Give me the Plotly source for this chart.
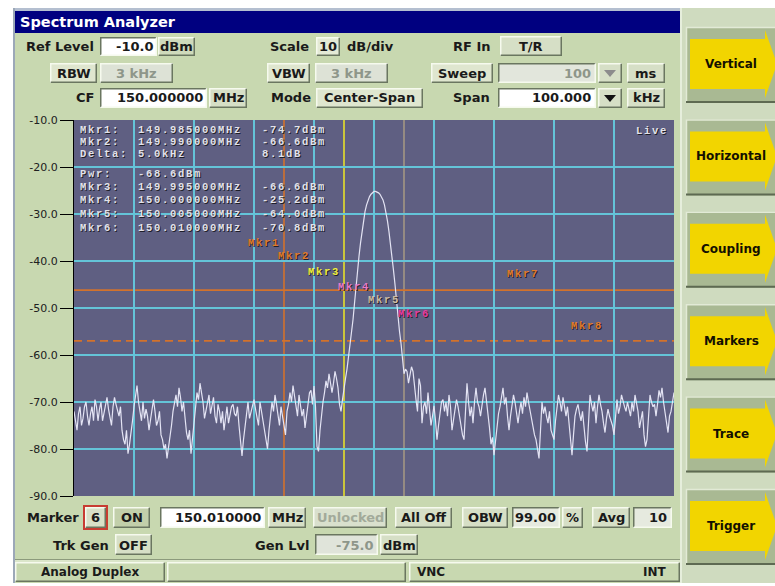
import plotly.graph_objects as go

# ---------------- data ----------------
# one sweep point every 0.25 kHz from 149.950 MHz to 150.050 MHz
FREQ_START_MHZ = 149.950
FREQ_STEP_MHZ = 0.00025
TRACE_DBM = [
    # 149.950 .. 149.995 MHz (noise floor)
    -72, -74, -76, -72.5, -71, -75, -73.5, -71, -70, -73,
    -75, -72.5, -71, -74, -69.5, -71, -74, -71.5, -70, -74,
    -72, -70, -69, -71.5, -73, -75, -71, -69, -70.5, -72,
    -73, -71, -76, -78, -79, -76, -81, -79, -77, -74,
    -71, -69, -66.5, -70, -72, -74, -70, -73.5, -71.5, -73,
    -76, -73.5, -71, -69.5, -72, -75, -74, -72, -77, -78,
    -80, -79, -82, -80, -78, -75, -72, -70, -68.5, -71,
    -67, -69, -72, -70, -74, -76.5, -78, -76, -81, -78,
    -74, -71, -68, -69.5, -66, -68, -70, -73.5, -72, -70,
    -68.5, -72.5, -71, -69, -73, -74.5, -70.5, -72, -74.5, -72,
    -76, -73, -71, -74.5, -72.5, -71, -70.5, -72.5, -73, -71,
    -75, -78, -81.5, -78, -75, -72.5, -70, -73.5, -72, -70.5,
    -69.5, -71.5, -73, -75, -70, -72, -74.5, -77, -79, -80,
    -76, -73, -70, -72, -68.5, -70.5, -73, -75, -71, -73,
    -74.7, -77, -72, -70.5, -68, -70, -66.5, -69, -71, -73,
    -68.5, -70.5, -73, -71.5, -75.5, -73, -70, -68, -67.5, -70.5,
    -66.6, -71, -79.5, -80.5, -76, -72.5, -70, -68, -65.5, -67,
    -64, -66, -68, -66, -63.5, -65, -67, -70.5, -72, -69.5,
    # 149.995 .. 150.005 MHz (carrier)
    -66.6, -65, -63, -60.5, -57.5, -55, -52.5, -49, -45, -42,
    -39, -36.2, -33.8, -31.5, -29.5, -28.1, -27, -26.3, -25.8, -25.4,
    -25.2, -25.2, -25.3, -25.5, -25.8, -26.3, -27, -28.1, -29.5, -31.5,
    -33.8, -36.2, -39, -42, -45, -49, -52.5, -55, -57.5, -61,
    -64.0,
    # 150.00525 .. 150.050 MHz (noise floor)
    -63, -63.5, -66, -64.5, -62.5, -63.5, -67, -69.5, -72, -65,
    -66.5, -74.5, -71, -70, -72.5, -68, -71.5, -75, -73, -70.8,
    -74, -78, -75, -72, -70, -69.5, -72, -70, -73, -68.5,
    -71, -76, -74, -72, -69.5, -71, -73.5, -75, -77, -78,
    -72, -66, -70, -73, -71, -74.5, -70, -67, -70, -71,
    -73, -70, -68.5, -67, -69.5, -72, -75.5, -79, -77.5, -81.3,
    -78, -75, -72.5, -71, -69, -67, -70.5, -69, -73, -76,
    -73, -71, -68.5, -70, -72, -74.5, -72, -70, -72.5, -69,
    -71, -68, -70, -72, -73.5, -75, -77, -78, -80, -82,
    -76, -70, -72.5, -71, -73, -74.5, -72, -76, -77, -78,
    -74, -71, -68.5, -70, -72, -69, -71.5, -73, -71, -75,
    -78, -81.3, -77, -73, -71.5, -70.5, -72.5, -74, -72, -76,
    -78.5, -80.5, -74, -68.5, -70.5, -72, -70, -74.5, -71, -68.5,
    -70.5, -72, -74.5, -76.5, -73.5, -71.5, -73, -74, -75, -77,
    -73, -69.5, -72.5, -71, -68.5, -70, -71, -72, -70, -71.5,
    -73, -70, -72, -68.5, -70.5, -72, -75.5, -74, -72, -77,
    -79.5, -78, -72, -68.5, -70, -71, -70.5, -73, -70.5, -67.5,
    -69, -67, -70, -72, -74.5, -76.5, -73, -72, -70, -68,
]

X_GRID_MHZ = [149.95, 149.96, 149.97, 149.98, 149.99, 150.00,
              150.01, 150.02, 150.03, 150.04, 150.05]
Y_TICK_DBM = [-10, -20, -30, -40, -50, -60, -70, -80, -90]
Y_TICK_TEXT = ["-10.0", "-20.0", "-30.0", "-40.0", "-50.0",
               "-60.0", "-70.0", "-80.0", "-90.0"]

MARKER_NAMES = ["Mkr1", "Mkr2", "Mkr3", "Mkr4", "Mkr5", "Mkr6"]
MARKER_FREQ_MHZ = [149.985, 149.990, 149.995, 150.000, 150.005, 150.010]
MARKER_DBM = [-74.7, -66.6, -66.6, -25.2, -64.0, -70.8]
LEVEL_MARKER_NAMES = ["Mkr7", "Mkr8"]
LEVEL_MARKER_DBM = [-46.2, -57.0]
CHANNEL_POWER_DBM = -68.6

SIDE_BUTTONS = ["Vertical", "Horizontal", "Coupling", "Markers", "Trace", "Trigger"]

# ---------------- geometry helpers ----------------
W, H = 775, 586
PL, PR, PT, PB = 74, 674, 120, 496
SANS = "DejaVu Sans"
MONO = "Liberation Mono"
BG = "#c8d8b0"
FACE = "#d6dfc6"
GRAYFACE = "#dde2d6"
GRAYTXT = "#8e968a"

shapes = []
annots = []


def px(x):
    return (x - PL) / (PR - PL)


def py(y):
    return (PB - y) / (PB - PT)


def rect(x0, y0, x1, y1, fill):
    shapes.append(dict(type="rect", xref="paper", yref="paper",
                       x0=px(x0), x1=px(x1), y0=py(y1), y1=py(y0),
                       fillcolor=fill, line=dict(width=0), layer="above"))


def path(points, color=None, lw=0, fill=None, closed=False):
    d = "M " + " L ".join(f"{px(x):.5f},{py(y):.5f}" for x, y in points)
    if closed:
        d += " Z"
    shapes.append(dict(type="path", xref="paper", yref="paper", path=d,
                       line=dict(color=color or "rgba(0,0,0,0)", width=lw),
                       fillcolor=fill or "rgba(0,0,0,0)", layer="above"))


def box(x0, y0, x1, y1, face, style="raised"):
    rect(x0, y0, x1, y1, face)
    if style == "raised":
        hi, sh = "#f6faee", "#6a7660"
    else:
        hi, sh = "#6a7660", "#f6faee"
    path([(x0 + 0.75, y1 - 0.75), (x0 + 0.75, y0 + 0.75), (x1 - 0.75, y0 + 0.75)], hi, 1.5)
    path([(x1 - 0.75, y0 + 0.75), (x1 - 0.75, y1 - 0.75), (x0 + 0.75, y1 - 0.75)], sh, 1.5)


def text(x, y, s, size=13, color="#1a1a1a", anchor="left", bold=True, family=SANS):
    annots.append(dict(xref="paper", yref="paper", x=px(x), y=py(y),
                       text=f"<b>{s}</b>" if bold else s, showarrow=False,
                       xanchor=anchor, yanchor="middle", borderpad=0,
                       font=dict(size=size, color=color, family=family)))


def mono(x, y, s, color="#e2e2ea", anchor="left", xref="paper", xval=None, xshift=0):
    html = ('<b><span style="letter-spacing:1.7px;'
            'text-shadow:1px 1px 0px #1e1e2a">' + s + '</span></b>')
    annots.append(dict(xref=xref, yref="paper",
                       x=px(x) if xval is None else xval, y=py(y),
                       text=html, showarrow=False, xanchor=anchor, yanchor="middle",
                       xshift=xshift, borderpad=0,
                       font=dict(size=10.5, color=color, family=MONO)))


# ---------------- window chrome ----------------
rect(0, 0, 775, 8, "#ffffff")
rect(0, 0, 13, 586, "#ffffff")
rect(0, 583, 775, 586, "#ffffff")
rect(13, 8, 682, 11, "#b4bfd0")
rect(13, 8, 15, 583, "#9ca8b8")
rect(15, 11, 680, 33, "#000080")
text(19, 22, "Spectrum Analyzer", 14.5, "#ffffff")

# right panel
rect(680, 8, 775, 583, "#cfdbbf")
rect(680, 8, 682, 583, "#e6eedc")
for k, name in enumerate(SIDE_BUTTONS):
    T = 27 + 92.4 * k
    rect(686, T, 776, T + 76, "#a9b993")
    path([(686.5, T + 76), (686.5, T + 0.5), (776, T + 0.5)], "#e2ead6", 1.5)
    path([(686, T + 75), (776, T + 75)], "#5e6a52", 2)
    path([(690, T + 12), (765, T + 12), (765, T + 3), (777, T + 37),
          (765, T + 71), (765, T + 62), (690, T + 62)],
         fill="#f2d500", closed=True)
    text(731, T + 37, name, 12, "#141000", "center")

# ---------------- top control rows ----------------
y1c = 46.5
text(95, y1c, "Ref Level", anchor="right")
box(100, 37, 157, 56, "#ffffff", "sunken")
text(154, y1c, "-10.0", anchor="right")
box(158, 37, 195, 56, "#cfdabb")
text(176.5, y1c, "dBm", anchor="center")
text(310, y1c, "Scale", anchor="right")
box(316, 37, 340, 56, "#e4ead6")
text(328, y1c, "10", anchor="center")
text(346, y1c, "dB/div")
text(492, y1c, "RF In", anchor="right")
box(500, 36, 562, 56, FACE)
text(531, y1c, "T/R", anchor="center")

y2c = 73
box(50, 63, 97, 83, "#dfe6cf")
text(73.5, y2c, "RBW", anchor="center")
box(100, 63, 173, 83, GRAYFACE)
text(136.5, y2c, "3 kHz", color=GRAYTXT, anchor="center")
box(267, 63, 310, 83, "#dfe6cf")
text(288.5, y2c, "VBW", anchor="center")
box(315, 63, 388, 83, GRAYFACE)
text(351.5, y2c, "3 kHz", color=GRAYTXT, anchor="center")
box(431, 63, 493, 83, "#dfe6cf")
text(462, y2c, "Sweep", anchor="center")
box(498, 63, 596, 83, "#e2e6dc", "sunken")
text(592, y2c, "100", color=GRAYTXT, anchor="right")
box(598, 63, 622, 83, FACE)
path([(604, 70), (616, 70), (610, 77)], fill="#8c8c8c", closed=True)
box(627, 63, 665, 83, FACE)
text(646, y2c, "ms", anchor="center")

y3c = 98
text(95, y3c, "CF", anchor="right")
box(100, 88, 207, 108, "#ffffff", "sunken")
text(204, y3c, "150.000000", anchor="right")
box(209, 88, 247, 108, FACE)
text(228, y3c, "MHz", anchor="center")
text(312, y3c, "Mode", anchor="right")
box(316, 88, 423, 108, "#dfe6cf")
text(369.5, y3c, "Center-Span", anchor="center")
text(491, y3c, "Span", anchor="right")
box(498, 88, 596, 108, "#ffffff", "sunken")
text(592, y3c, "100.000", anchor="right")
box(598, 88, 622, 108, FACE)
path([(604, 95), (616, 95), (610, 102)], fill="#111111", closed=True)
box(627, 88, 665, 108, FACE)
text(646, y3c, "kHz", anchor="center")

# ---------------- bottom control rows ----------------
yac = 517.5
text(80, yac, "Marker", anchor="right")
rect(83, 505, 108, 530, "#c83c32")
box(85, 507, 106, 528, "#d8e0c8")
text(95.5, yac, "6", anchor="center")
box(113, 507, 150, 528, "#c2cfaa")
text(131.5, yac, "ON", anchor="center")
box(160, 507, 265, 528, "#ffffff", "sunken")
text(262, yac, "150.010000", anchor="right")
box(268, 507, 306, 528, FACE)
text(287, yac, "MHz", anchor="center")
box(313, 507, 387, 528, "#d9e0cd")
text(350, yac, "Unlocked", color="#a2aa9a", anchor="center")
box(395, 507, 452, 528, FACE)
text(423.5, yac, "All Off", anchor="center")
box(462, 507, 508, 528, FACE)
text(485, yac, "OBW", anchor="center")
box(512, 507, 560, 528, "#e6eadf", "sunken")
text(557, yac, "99.00", anchor="right")
box(562, 507, 583, 528, FACE)
text(572.5, yac, "%", anchor="center")
box(592, 507, 630, 528, FACE)
text(611, yac, "Avg", anchor="center")
box(633, 507, 672, 528, "#e6eadf", "sunken")
text(668, yac, "10", anchor="right")

ybc = 545
text(110, ybc, "Trk Gen", anchor="right")
box(115, 534, 152, 555, FACE)
text(133.5, ybc, "OFF", anchor="center")
text(310, ybc, "Gen Lvl", anchor="right")
box(315, 534, 378, 555, "#e0e4da", "sunken")
text(374, ybc, "-75.0", color=GRAYTXT, anchor="right")
box(380, 534, 418, 555, FACE)
text(399, ybc, "dBm", anchor="center")

# status bar
path([(15, 559.5), (680, 559.5)], "#8c9a7c", 1.2)
path([(15, 561), (680, 561)], "#eef4e4", 1.2)
box(15, 562, 165, 582, BG)
text(40, 572, "Analog Duplex", 12)
box(167, 562, 406, 582, BG)
box(409, 562, 680, 582, BG)
text(416, 572, "VNC", 12)
text(668, 572, "INT", 12, anchor="right")

# ---------------- marker readout ----------------
f1, f2 = MARKER_FREQ_MHZ[0], MARKER_FREQ_MHZ[1]
readout = [
    (129.5, "Mkr1:", f"{MARKER_FREQ_MHZ[0]:.6f}MHz", f"{MARKER_DBM[0]:.1f}dBm"),
    (141.5, "Mkr2:", f"{MARKER_FREQ_MHZ[1]:.6f}MHz", f"{MARKER_DBM[1]:.1f}dBm"),
    (153.5, "Delta:", f"{(f2 - f1) * 1000:.1f}kHz", f"{MARKER_DBM[1] - MARKER_DBM[0]:.1f}dB"),
    (174, "Pwr:", f"{CHANNEL_POWER_DBM:.1f}dBm", ""),
]
row_y = [186.5, 199.5, 213.5, 227.5]
for k in range(2, 6):
    readout.append((row_y[k - 2], f"{MARKER_NAMES[k]}:",
                    f"{MARKER_FREQ_MHZ[k]:.6f}MHz", f"{MARKER_DBM[k]:.1f}dBm"))
for y, a, b, c in readout:
    mono(79, y, a)
    mono(137, y, b)
    if c:
        mono(261, y, c)
mono(669, 131, "Live", anchor="right")

# marker labels
LABEL_COLORS = ["#e07a2a", "#e07a2a", "#eeee3c", "#e87ac8", "#cbbba2", "#e83ca0"]
LINE_COLORS = ["#d2722c", "#d2722c", "#e6e02a", "#d04aa8", "#a39684", "#d83a8e"]
LABEL_Y = [243, 256, 272, 287, 300, 314]
for k in range(6):
    mono(0, LABEL_Y[k], MARKER_NAMES[k], color=LABEL_COLORS[k], anchor="right",
         xref="x", xval=MARKER_FREQ_MHZ[k], xshift=-3)
mono(523, 274, LEVEL_MARKER_NAMES[0], color="#e07a2a", anchor="center")
mono(587, 326, LEVEL_MARKER_NAMES[1], color="#e07a2a", anchor="center")

# marker lines (between grid and trace)
for k in range(6):
    shapes.append(dict(type="line", xref="x", yref="paper",
                       x0=MARKER_FREQ_MHZ[k], x1=MARKER_FREQ_MHZ[k], y0=0, y1=1,
                       line=dict(color=LINE_COLORS[k], width=1.6,
                                 dash="8px,5px" if k == 1 else "solid"),
                       layer="between"))
for k in range(2):
    shapes.append(dict(type="line", xref="paper", yref="y",
                       x0=0, x1=1, y0=LEVEL_MARKER_DBM[k], y1=LEVEL_MARKER_DBM[k],
                       line=dict(color="#d2722c", width=1.6,
                                 dash="solid" if k == 0 else "8px,5px"),
                       layer="between"))

# ---------------- figure ----------------
freqs = [round(FREQ_START_MHZ + i * FREQ_STEP_MHZ, 6) for i in range(len(TRACE_DBM))]

fig = go.Figure()
fig.add_trace(go.Scatter(x=freqs, y=TRACE_DBM, mode="lines",
                         line=dict(color="#e4e4f4", width=1.2),
                         hoverinfo="skip", showlegend=False))

fig.update_layout(
    template="none",
    width=W, height=H,
    margin=dict(l=PL, r=W - PR, t=PT, b=H - PB, pad=0, autoexpand=False),
    paper_bgcolor=BG,
    plot_bgcolor="#5f5f82",
    showlegend=False,
    shapes=shapes,
    annotations=annots,
    xaxis=dict(range=[FREQ_START_MHZ, freqs[-1]], tickvals=X_GRID_MHZ,
               showticklabels=False, ticks="", showgrid=True,
               gridcolor="#64c4d8", gridwidth=1.5, zeroline=False,
               showline=False, automargin=False, fixedrange=True),
    yaxis=dict(range=[-90, -10], tickvals=Y_TICK_DBM, ticktext=Y_TICK_TEXT,
               ticks="outside", ticklen=13, tickwidth=1, tickcolor="#000000",
               tickfont=dict(family=SANS, size=11, color="#202020"),
               showgrid=True, gridcolor="#64c4d8", gridwidth=1.5,
               zeroline=False, showline=True, linecolor="#000000", linewidth=1,
               automargin=False, fixedrange=True),
)

fig.write_html("out.html", config={"displayModeBar": False},
               post_script="document.body.style.margin='0';document.body.style.overflow='hidden';")
